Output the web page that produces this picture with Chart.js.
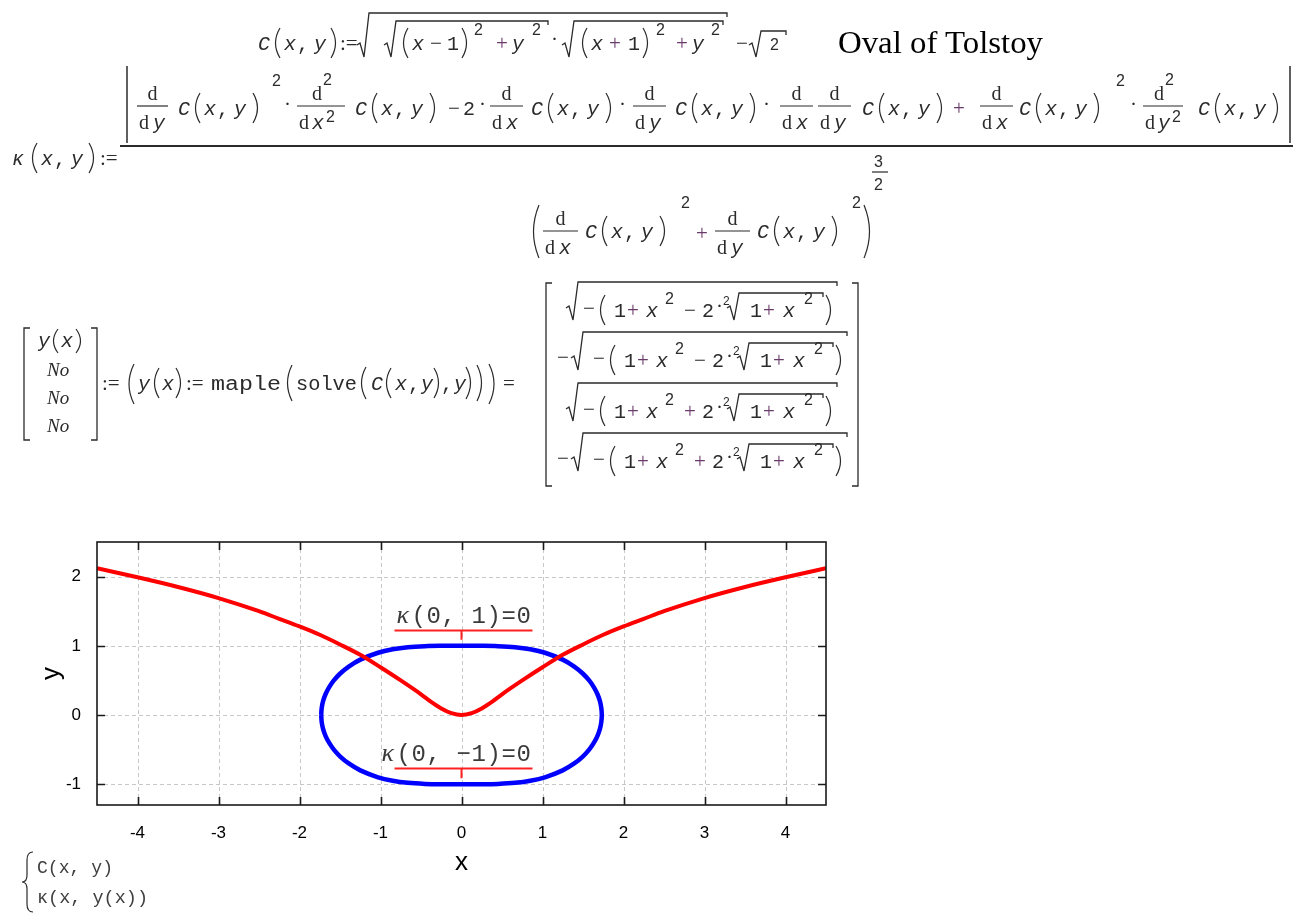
<!DOCTYPE html>
<html><head><meta charset="utf-8">
<script src="https://cdn.jsdelivr.net/npm/chart.js@4"></script>
<style>
html,body{margin:0;padding:0;background:#fff;overflow:hidden;width:1309px;height:914px}
#wrap{position:absolute;left:0;top:520px;width:850px;height:394px}
#eq{position:absolute;left:0;top:0;width:1309px;height:914px;z-index:2;pointer-events:none}
#eq text{fill:#2b2b2b}
#eq .v{font:italic 20px "Liberation Mono"}
#eq .n{font:20px "Liberation Mono"}
#eq .d{font:20px "Liberation Serif"}
#eq .o{font:21px "Liberation Serif"}
#eq .p{font:21px "Liberation Serif";fill:#6a3a6a}
#eq .s{font:16px "Liberation Sans"}
#eq .s2{font:12px "Liberation Sans"}
#eq .t{font:32px "Liberation Serif";fill:#000}
#eq .no{font:italic 19px "Liberation Serif"}
#eq .lg{font:19px "Liberation Mono";fill:#404040}
</style></head>
<body>
<div id="wrap"><canvas id="c" width="850" height="394"></canvas></div>
<svg id="eq" xmlns="http://www.w3.org/2000/svg" width="1309" height="914"></svg>
<script>
// ---------- chart data ----------
const kappaX = [-4.5,-4,-3.5,-3,-2.5,-2.25,-2,-1.75,-1.5,-1.25,-1,-0.75,-0.5,-0.375,-0.25,-0.125,0,0.125,0.25,0.375,0.5,0.75,1,1.25,1.5,1.75,2,2.25,2.5,3,3.5,4,4.5];
const kappaY = [2.12,1.99,1.85,1.69,1.50,1.39,1.28,1.16,1.02,0.87,0.69,0.50,0.30,0.19,0.095,0.027,0,0.027,0.095,0.19,0.30,0.50,0.69,0.87,1.02,1.16,1.28,1.39,1.50,1.69,1.85,1.99,2.12];
const ovalX = [-1.732,-1.726,-1.709,-1.679,-1.635,-1.576,-1.497,-1.392,-1.249,-1.03,-0.85,-0.662,-0.45,-0.25,0,0.25,0.45,0.662,0.85,1.03,1.249,1.392,1.497,1.576,1.635,1.679,1.709,1.726,1.732,
               1.726,1.709,1.679,1.635,1.576,1.497,1.392,1.249,1.03,0.85,0.662,0.45,0.25,0,-0.25,-0.45,-0.662,-0.85,-1.03,-1.249,-1.392,-1.497,-1.576,-1.635,-1.679,-1.709,-1.726,-1.732];
const ovalY = [0,0.1,0.2,0.3,0.4,0.5,0.6,0.7,0.8,0.9,0.95,0.98,0.995,0.9995,1,0.9995,0.995,0.98,0.95,0.9,0.8,0.7,0.6,0.5,0.4,0.3,0.2,0.1,0,
               -0.1,-0.2,-0.3,-0.4,-0.5,-0.6,-0.7,-0.8,-0.9,-0.95,-0.98,-0.995,-0.9995,-1,-0.9995,-0.995,-0.98,-0.95,-0.9,-0.8,-0.7,-0.6,-0.5,-0.4,-0.3,-0.2,-0.1,0];
const xTicks = [-4,-3,-2,-1,0,1,2,3,4];
const yTicks = [-1,0,1,2];
const annText = ['κ(0, 1)=0','κ(0, −1)=0'];
const annX = [0,0];
const annY = [1,-1];

// ---------- formula text (SVG) ----------
const svg=document.getElementById('eq');
const NS='http://www.w3.org/2000/svg';
function T(x,y,s,cls,len){const t=document.createElementNS(NS,'text');t.setAttribute('x',x);t.setAttribute('y',y);t.setAttribute('class',cls);if(len){t.setAttribute('textLength',len);t.setAttribute('lengthAdjust','spacingAndGlyphs');}t.textContent=s;svg.appendChild(t);}
function P(d,w){const p=document.createElementNS(NS,'path');p.setAttribute('d',d);p.setAttribute('fill','none');p.setAttribute('stroke','#2b2b2b');p.setAttribute('stroke-width',w||1.2);svg.appendChild(p);}
function L(x1,y1,x2,y2,w){P(`M${x1} ${y1} L${x2} ${y2}`,w);}
function po(x,t,b,w){w=w||7;P(`M${x+w} ${t} Q${x-2} ${(t+b)/2} ${x+w} ${b}`);}
function pc(x,t,b,w){w=w||7;P(`M${x} ${t} Q${x+w+2} ${(t+b)/2} ${x} ${b}`);}
function rad(x0,yb,yt,xe){P(`M${x0} ${yb-12} L${x0+3} ${yb-14} L${x0+7} ${yb} L${x0+12} ${yt} L${xe} ${yt} L${xe} ${yt+4}`,1.3);}
function grp(x0,b){T(x0,b,'C','v');po(x0+15,b-22,b+8);T(x0+26,b,'x','v');T(x0+39,b,',','n');T(x0+56,b,'y','v');pc(x0+75,b-22,b+8);}
function dd(xb,xe,nb,v,sq){L(xb,nb+6,xe,nb+6,1.2);const cx=(xb+xe)/2;
  if(sq){T(cx-9,nb,'d','d');T(cx+2,nb-15,'2','s');T(xb+2,nb+29,'d','d');T(xb+15,nb+29,v,'v');T(xb+29,nb+22,'2','s');}
  else{T(cx-5,nb,'d','d');T(xb+2,nb+29,'d','d');T(xb+16,nb+29,v,'v');}}

// line 1
const B1=50;
T(258,B1,'C','v');po(273,B1-22,B1+8);T(284,B1,'x','v');T(297,B1,',','n');T(314,B1,'y','v');pc(331,B1-22,B1+8);T(340,B1,':=','o');
rad(357,B1+7,13,727);
rad(384,B1+7,21,548);
po(401,B1-22,B1+8);T(412,B1,'x','v');T(430,B1,'−','o');T(447,B1,'1','n');pc(462,B1-22,B1+8);T(474,B1-15,'2','s');T(496,B1,'+','p');T(512,B1,'y','v');T(532,B1-15,'2','s');
T(551,B1-4,'·','o');
rad(562,B1+7,21,723);
po(580,B1-22,B1+8);T(591,B1,'x','v');T(609,B1,'+','p');T(628,B1,'1','n');pc(643,B1-22,B1+8);T(656,B1-15,'2','s');T(676,B1,'+','p');T(692,B1,'y','v');T(711,B1-15,'2','s');
T(736,B1,'−','o');rad(749,B1+7,31,786);T(770,B1,'2','s');
T(838,53,'Oval of Tolstoy','t',205);

// line 2 : curvature
const KB=165;
T(12,KB,'κ','v');po(30,KB-22,KB+8);T(41,KB,'x','v');T(54,KB,',','n');T(71,KB,'y','v');pc(89,KB-22,KB+8);T(100,KB,':=','o');
L(120,146,1293,146,2);
L(127,66,127,143,1.5);L(1290,66,1290,143,1.5);
const NB=115,DN=100;
dd(137,168,DN,'y');grp(178,NB);T(272,86,'2','s');T(284,NB-4,'·','o');
dd(297,345,DN,'x',true);grp(355,NB);T(448,NB,'−','o');T(463,NB,'2','n');T(479,NB-4,'·','o');
dd(490,523,DN,'x');grp(531,NB);T(619,NB-4,'·','o');
dd(633,666,DN,'y');grp(675,NB);T(763,NB-4,'·','o');
dd(780,813,DN,'x');dd(818,851,DN,'y');grp(862,NB);T(953,NB,'+','p');
dd(980,1013,DN,'x');grp(1019,NB);T(1116,86,'2','s');T(1130,NB-4,'·','o');
dd(1143,1183,DN,'y',true);grp(1198,NB);
const DB=238;
po(530,205,258,9);dd(543,578,225,'x');grp(585,DB);T(681,208,'2','s');T(696,DB+2,'+','p');
dd(715,750,225,'y');grp(757,DB);T(852,208,'2','s');pc(864,205,258,9);
T(874,167,'3','s');L(872,172,888,172,1.2);T(874,190,'2','s');

// line 3 : solve
P('M30 328 L24 328 L24 440 L30 440',1.3);P('M91 328 L97 328 L97 440 L91 440',1.3);
T(38,347,'y','v');po(51,329,353);T(61,347,'x','v');pc(76,329,353);
T(47,376,'No','no');T(47,404,'No','no');T(47,432,'No','no');
const LB=390;
T(102,LB,':=','o');
po(126,364,404,8);T(138,LB,'y','v');po(152,LB-22,LB+8);T(162,LB,'x','v');pc(176,LB-22,LB+8);T(186,LB,':=','o');
T(211,LB,'maple','n',70);po(285,LB-25,LB+11);T(296,LB,'solve','n',61);po(359,LB-23,LB+9);T(371,LB,'C','v');po(384,LB-22,LB+8);T(395,LB,'x','v');T(408,LB,',','n');T(421,LB,'y','v');pc(434,LB-22,LB+8);T(441,LB,',','n');T(454,LB,'y','v');pc(466,LB-23,LB+9);pc(477,LB-25,LB+11);pc(489,364,404,8);T(503,LB,'=','o');
P('M552 283 L546 283 L546 486 L552 486',1.3);P('M852 283 L858 283 L858 486 L852 486',1.3);
function row(b,neg,sign){const s=neg?10:0;
  if(neg)T(557,b-3,'−','o');
  rad(566+(neg?5:0),b+3,b-35,837+s);
  T(583+s,b-2,'−','o');po(598+s,b-22,b+8);T(614+s,b,'1','n');T(627+s,b,'+','p');T(646+s,b,'x','v');T(665+s,b-13,'2','s');
  T(684+s,b,sign,sign==='+'?'p':'o');T(702+s,b,'2','n');T(716+s,b-4,'·','o');T(723+s,b-12,'2','s2');
  rad(727+s,b+3,b-24,823+s);T(750+s,b,'1','n');T(763+s,b,'+','p');T(783+s,b,'x','v');T(804+s,b-13,'2','s');pc(826+s,b-22,b+8);}
row(317,false,'−');row(367,true,'−');row(418,false,'+');row(468,true,'+');

// trace legend
P('M33 852 Q27 852 27 860 L27 875 Q27 882 22 882 Q27 882 27 889 L27 904 Q27 912 33 912',1.2);
T(37,873,'C(x, y)','lg',76);T(37,903,'κ(x, y(x))','lg',111);

// ---------- chart ----------
const framePlugin={id:'frame',
  beforeDatasetsDraw(c){const {ctx,chartArea:a,scales:{x,y}}=c;ctx.save();ctx.strokeStyle='#c8c8c8';ctx.lineWidth=1;ctx.setLineDash([4,3]);
    xTicks.forEach(v=>{const p=Math.round(x.getPixelForValue(v))+0.5;ctx.beginPath();ctx.moveTo(p,a.top);ctx.lineTo(p,a.bottom);ctx.stroke();});
    yTicks.forEach(v=>{const p=Math.round(y.getPixelForValue(v))+0.5;ctx.beginPath();ctx.moveTo(a.left,p);ctx.lineTo(a.right,p);ctx.stroke();});
    ctx.restore();},
  afterDatasetsDraw(c){const {ctx,chartArea:a,scales:{x,y}}=c;ctx.save();ctx.strokeStyle='#1a1a1a';ctx.lineWidth=1.6;
    ctx.strokeRect(a.left,a.top,a.right-a.left,a.bottom-a.top);ctx.beginPath();
    xTicks.forEach(v=>{const p=Math.round(x.getPixelForValue(v))+0.5;ctx.moveTo(p,a.bottom);ctx.lineTo(p,a.bottom-8);ctx.moveTo(p,a.top);ctx.lineTo(p,a.top+8);});
    yTicks.forEach(v=>{const p=Math.round(y.getPixelForValue(v))+0.5;ctx.moveTo(a.left,p);ctx.lineTo(a.left+8,p);ctx.moveTo(a.right,p);ctx.lineTo(a.right-8,p);});
    ctx.stroke();ctx.restore();}
};
const annPlugin={id:'ann',
  afterDatasetsDraw(c){const {ctx,scales:{x,y}}=c;
    annText.forEach((txt,k)=>{const px=x.getPixelForValue(annX[k]),py=y.getPixelForValue(annY[k]);const ly=Math.round(py-16)+0.5;
      ctx.save();ctx.strokeStyle='#ff2020';ctx.lineWidth=2;ctx.beginPath();ctx.moveTo(px-67,ly);ctx.lineTo(px+71,ly);ctx.moveTo(px,ly);ctx.lineTo(px,py-6);ctx.stroke();
      ctx.fillStyle='#3a3a3a';ctx.textBaseline='alphabetic';ctx.textAlign='left';
      const ch=[...txt];const adv=15;const sx=px+70-ch.length*adv;
      ch.forEach((c2,i)=>{ctx.font=c2==='κ'?'italic 26px "Liberation Serif"':'24px "Liberation Mono"';ctx.fillText(c2,sx+i*adv,ly-8);});
      ctx.restore();});}
};
new Chart(document.getElementById('c'),{
  type:'scatter',
  data:{datasets:[
    {label:'κ(x, y(x))',data:kappaX.map((v,i)=>({x:v,y:kappaY[i]})),showLine:true,borderColor:'#ff0000',borderWidth:4,pointRadius:0,cubicInterpolationMode:'monotone',fill:false},
    {label:'C(x, y)',data:ovalX.map((v,i)=>({x:v,y:ovalY[i]})),showLine:true,borderColor:'#0000ff',borderWidth:4.5,pointRadius:0,tension:0.35,fill:false}
  ]},
  options:{responsive:false,animation:false,devicePixelRatio:1,
    layout:{padding:{top:22,right:24,left:0,bottom:0}},
    plugins:{legend:{display:false},tooltip:{enabled:false}},
    scales:{
      x:{type:'linear',min:-4.5,max:4.5,
        afterBuildTicks:s=>{s.ticks=xTicks.map(v=>({value:v}));},
        afterFit:s=>{s.height=109;},
        grid:{display:false},border:{display:false},
        ticks:{padding:10,color:'#000',font:{family:'Liberation Sans',size:17}},
        title:{display:true,text:'x',color:'#000',font:{family:'Liberation Sans',size:26},padding:{top:0,bottom:36}}},
      y:{type:'linear',min:-1.3,max:2.5,
        afterBuildTicks:s=>{s.ticks=yTicks.map(v=>({value:v}));},
        afterFit:s=>{s.width=97;},
        grid:{display:false},border:{display:false},
        ticks:{padding:8,color:'#000',font:{family:'Liberation Sans',size:17}},
        title:{display:true,text:'y',color:'#000',font:{family:'Liberation Sans',size:26},padding:{top:36,bottom:0}}}
    }},
  plugins:[framePlugin,annPlugin]
});
</script>
</body></html>
